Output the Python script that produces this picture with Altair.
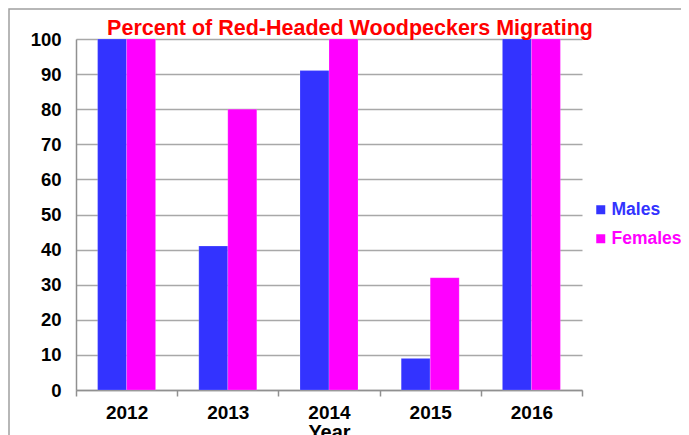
import altair as alt
import pandas as pd

years = ["2012", "2013", "2014", "2015", "2016"]
males = [100, 41, 91, 9, 100]
females = [100, 80, 100, 32, 100]
series = ["Males", "Females"]
colors = ["#3333ff", "#ff00ff"]
y_ticks = [0, 10, 20, 30, 40, 50, 60, 70, 80, 90, 100]
title_text = ["Percent of Red-Headed Woodpeckers Migrating"]

rows = []
for i, yr in enumerate(years):
    rows.append({"Year": yr, "Sex": "Males", "Percent": males[i]})
    rows.append({"Year": yr, "Sex": "Females", "Percent": females[i]})
df = pd.DataFrame(rows)

FONT = "Liberation Sans"

bars = alt.Chart(df).mark_bar(stroke="#ffffff", strokeWidth=0.3, strokeOpacity=0.6).encode(
    x=alt.X("Year:N", sort=years,
            scale=alt.Scale(paddingInner=0, paddingOuter=0),
            axis=alt.Axis(title="Year", labelAngle=0, tickBand="extent",
                          labelFont=FONT, labelFontSize=19, labelFontWeight="bold",
                          labelColor="#000000", labelPadding=7,
                          titleFont=FONT, titleFontSize=20, titleFontWeight="bold",
                          titleColor="#000000", titleY=32, titleBaseline="top",
                          domainColor="#909090", domainWidth=1.5,
                          tickColor="#909090", tickWidth=1.5, tickSize=6, grid=False)),
    xOffset=alt.XOffset("Sex:N", sort=series,
                        scale=alt.Scale(paddingInner=0, paddingOuter=0.745)),
    y=alt.Y("Percent:Q", scale=alt.Scale(domain=[0, 100], nice=False),
            axis=alt.Axis(title=None, values=y_ticks, ticks=False, tickSize=0,
                          labelFont=FONT, labelFontSize=18.5, labelFontWeight="bold",
                          labelColor="#000000", labelPadding=15,
                          domainColor="#909090", domainWidth=1.5,
                          grid=True, gridColor="#a8a8a8", gridWidth=1.5)),
    color=alt.Color("Sex:N", sort=series,
                    scale=alt.Scale(domain=series, range=colors),
                    legend=alt.Legend(title=None, orient="none", legendX=516, legendY=162,
                                      symbolType="square", symbolSize=81,
                                      symbolStrokeWidth=0, labelOffset=2,
                                      labelFont=FONT, labelFontSize=17.5, labelFontWeight="bold",
                                      labelColor={"expr": "datum.label == 'Males' ? '#3333ff' : '#ff00ff'"},
                                      rowPadding=10)),
)

border = alt.Chart(pd.DataFrame({"k": [0]})).mark_rect(
    fill=None, stroke="#a0a0a0", strokeWidth=1.5, clip=False
).encode(
    x=alt.value(-67), x2=alt.value(640), y=alt.value(-30), y2=alt.value(460)
)

title = alt.Chart(pd.DataFrame({"t": title_text})).mark_text(
    font=FONT, fontSize=21.5, fontWeight="bold", color="#ff0000",
    align="center", baseline="alphabetic", clip=False
).encode(
    text="t:N", x=alt.value(274), y=alt.value(-4)
)

chart = alt.layer(border, bars, title).properties(
    width=506, height=351,
    autosize=alt.AutoSizeParams(type="none"),
    padding={"left": 68, "top": 31, "right": 99, "bottom": 45},
).configure_view(stroke=None)

chart.save("out.html", embed_options={"renderer": "svg", "actions": False})
